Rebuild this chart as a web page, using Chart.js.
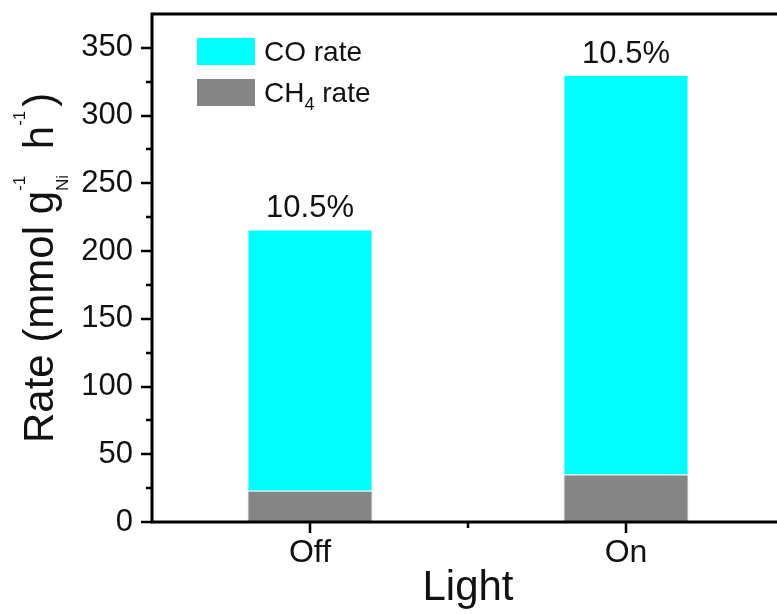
<!DOCTYPE html>
<html>
<head>
<meta charset="utf-8">
<script src="https://cdn.jsdelivr.net/npm/chart.js@4"></script>
<style>
  html, body { margin: 0; padding: 0; background: #fff; overflow: hidden; }
  #wrap { width: 777px; height: 614px; overflow: hidden; }
</style>
</head>
<body>
<div id="wrap"><canvas id="chart" width="788" height="614"></canvas></div>
<script>
// ===== Data =====
const categories = ['Off', 'On'];
const ch4Rate = [23, 35];     // bottom segment
const coRate = [193, 295];    // stacked on top
const topLabels = ['10.5%', '10.5%'];
const yTickValues = [0, 50, 100, 150, 200, 250, 300, 350];
const yMax = 375;

const FONT = "'Liberation Sans', Arial, sans-serif";
const CYAN = '#00ffff';
const GREY = '#858585';

// ===== Extra drawing: frame, ticks, legend, labels, y title =====
const decor = {
    id: 'decor',
    afterDatasetsDraw(chart) {
        const ctx = chart.ctx;
        const meta = chart.getDatasetMeta(1);
        ctx.save();
        ctx.fillStyle = '#111';
        ctx.font = `31px ${FONT}`;
        ctx.textAlign = 'center';
        ctx.textBaseline = 'alphabetic';
        meta.data.forEach((bar, i) => {
            ctx.fillText(topLabels[i], bar.x, bar.y - 12);
        });
        ctx.restore();
    },
    afterDraw(chart) {
        const ctx = chart.ctx;
        const a = chart.chartArea;
        const x = chart.scales.x, y = chart.scales.y;
        ctx.save();
        ctx.strokeStyle = '#000';
        ctx.lineWidth = 3;
        ctx.strokeRect(a.left, a.top, a.right - a.left, a.bottom - a.top);

        // y ticks: majors on labels, minors halfway
        ctx.lineWidth = 2.5;
        ctx.beginPath();
        yTickValues.forEach((v, i) => {
            const py = Math.round(y.getPixelForValue(v));
            ctx.moveTo(a.left - 11, py);
            ctx.lineTo(a.left, py);
            if (i < yTickValues.length - 1) {
                const pm = Math.round(y.getPixelForValue((v + yTickValues[i + 1]) / 2));
                ctx.moveTo(a.left - 6, pm);
                ctx.lineTo(a.left, pm);
            }
        });
        // x ticks: majors at categories, minor between
        categories.forEach((c, i) => {
            const px = Math.round(x.getPixelForValue(i));
            ctx.moveTo(px, a.bottom);
            ctx.lineTo(px, a.bottom + 11);
        });
        const mid = Math.round(x.getPixelForValue(0.5));
        ctx.moveTo(mid, a.bottom);
        ctx.lineTo(mid, a.bottom + 6);
        ctx.stroke();

        // legend (CO on top, CH4 below)
        const items = [
            { color: CYAN, parts: [['CO rate', 28, 0]] },
            { color: GREY, parts: [['CH', 28, 0], ['4', 18, 8], [' rate', 28, 0]] }
        ];
        ctx.textBaseline = 'alphabetic';
        ctx.textAlign = 'left';
        items.forEach((it, k) => {
            const top = 38 + k * 41;
            ctx.fillStyle = it.color;
            ctx.fillRect(197, top, 58, 27);
            let tx = 264;
            ctx.fillStyle = '#111';
            it.parts.forEach(([t, size, dy]) => {
                ctx.font = `${size}px ${FONT}`;
                ctx.fillText(t, tx, top + 23 + dy);
                tx += ctx.measureText(t).width;
            });
        });

        // y title, rotated, with sub/superscripts
        ctx.translate(53, 443);
        ctx.rotate(-Math.PI / 2);
        ctx.fillStyle = '#111';
        let p = 0;
        const put = (t, size, dy) => {
            ctx.font = `${size}px ${FONT}`;
            ctx.fillText(t, p, dy);
            return ctx.measureText(t).width;
        };
        p += put('Rate (mmol g', 42, 0);
        const w1 = put('Ni', 17, 15);
        const w2 = put('-1', 17, -28);
        p += Math.max(w1, w2) + 14;
        p += put(' h', 42, 0);
        p += put('-1', 17, -28) + 4;
        put(')', 42, 0);
        ctx.restore();
    }
};

// ===== Chart =====
const ctx = document.getElementById('chart').getContext('2d');
new Chart(ctx, {
    type: 'bar',
    data: {
        labels: categories,
        datasets: [
            { label: 'CH4 rate', data: ch4Rate, backgroundColor: GREY, borderColor: '#e6e6e6', borderWidth: 1 },
            { label: 'CO rate', data: coRate, backgroundColor: CYAN, borderColor: '#e6ffff', borderWidth: 1 }
        ]
    },
    options: {
        responsive: false,
        animation: false,
        devicePixelRatio: 1,
        layout: { padding: { left: 0, top: 14, right: 4, bottom: 0 } },
        datasets: { bar: { categoryPercentage: 1, barPercentage: 0.396 } },
        plugins: { legend: { display: false }, tooltip: { enabled: false } },
        scales: {
            x: {
                stacked: true,
                offset: true,
                grid: { display: false, drawTicks: false },
                border: { display: false },
                ticks: { color: '#111', font: { family: FONT, size: 32 }, padding: 12 },
                title: { display: true, text: 'Light', color: '#111', font: { family: FONT, size: 42 }, padding: { top: 0, bottom: 0 } },
                afterFit: s => { s.height = 92; s.paddingLeft = 0; s.paddingRight = 0; }
            },
            y: {
                stacked: true,
                min: 0,
                max: yMax,
                grid: { display: false, drawTicks: false },
                border: { display: false },
                ticks: { color: '#111', font: { family: FONT, size: 31 }, padding: 19 },
                afterBuildTicks: s => { s.ticks = yTickValues.map(v => ({ value: v })); },
                afterFit: s => { s.width = 152; s.paddingTop = 0; s.paddingBottom = 0; }
            }
        }
    },
    plugins: [decor]
});
</script>
</body>
</html>
